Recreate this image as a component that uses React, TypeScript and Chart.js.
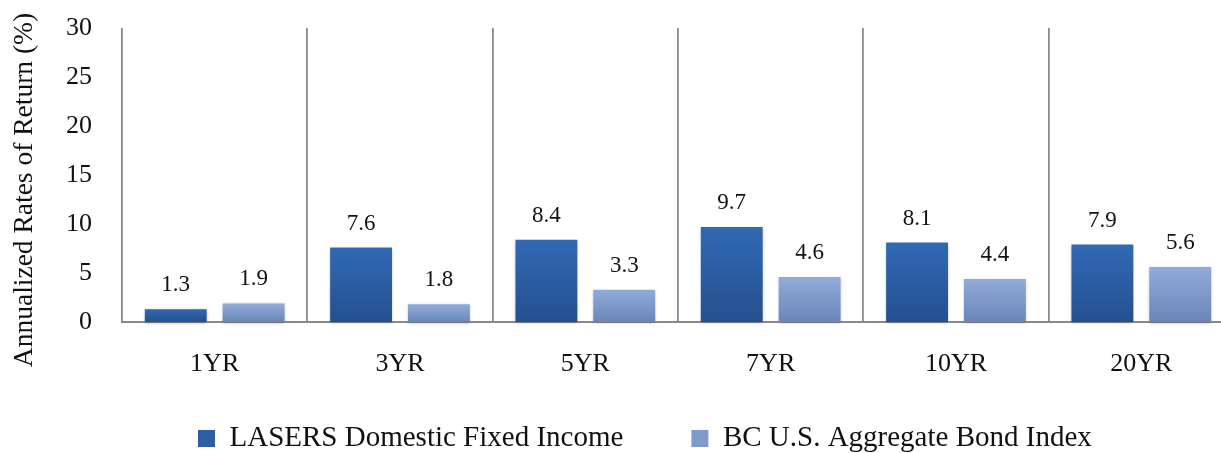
import React, { useEffect, useRef } from "react";
import { Chart, registerables } from "chart.js";

Chart.register(...registerables);

const categories = ["1YR", "3YR", "5YR", "7YR", "10YR", "20YR"];
const lasersValues = [1.3, 7.6, 8.4, 9.7, 8.1, 7.9];
const bcValues = [1.9, 1.8, 3.3, 4.6, 4.4, 5.6];
const seriesNames = ["LASERS Domestic Fixed Income", "BC U.S. Aggregate Bond Index"];
const yTicks = [0, 5, 10, 15, 20, 25, 30];
const yTitle = "Annualized Rates of Return (%)";

const FONT = "'Liberation Serif', 'Times New Roman', serif";
const W = 1240;
const H = 453;
const PLOT_LEFT = 122;
const PLOT_TOP = 28;
const PLOT_BOTTOM = 322;
const PLOT_RIGHT = 1234;
const LEGEND_PAD = 68;
const LEGEND_X = 198;
const LEGEND_ITEM_TOP = 424;
const X_LABEL_BAND = 80;
const Y_TITLE_SHIFT = 15;

const darkStops = ["#3169b4", "#25508f"];
const lightStops = ["#91acd9", "#6a86b9"];
const legendColors = ["#2c5ea4", "#7f9bcc"];

function barGradient(stops: string[]) {
  return (c: any) => {
    const chart = c.chart;
    const y = chart.scales && chart.scales.y;
    if (!chart.chartArea || !y || c.type !== "data" || !c.parsed) return stops[0];
    const top = y.getPixelForValue(c.parsed.y);
    const base = y.getPixelForValue(0);
    if (!isFinite(top) || !isFinite(base) || top === base) return stops[0];
    const g = chart.ctx.createLinearGradient(0, top, 0, base);
    g.addColorStop(0, stops[0]);
    g.addColorStop(1, stops[1]);
    return g;
  };
}

const barDecor = {
  id: "barDecor",
  beforeDatasetsDraw(chart: any) {
    const ctx = chart.ctx;
    ctx.save();
    ctx.shadowColor = "rgba(0,0,0,0.28)";
    ctx.shadowBlur = 3;
    ctx.shadowOffsetY = 1;
  },
  afterDatasetsDraw(chart: any) {
    const ctx = chart.ctx;
    ctx.restore();
    ctx.save();
    ctx.font = `23px ${FONT}`;
    ctx.fillStyle = "#111";
    ctx.textAlign = "center";
    ctx.textBaseline = "alphabetic";
    chart.data.datasets.forEach((ds: any, di: number) => {
      const meta = chart.getDatasetMeta(di);
      meta.data.forEach((el: any, i: number) => {
        const v = ds.data[i];
        ctx.fillText(Number(v).toFixed(1), el.x, el.y - 18);
      });
    });
    ctx.restore();
  },
};

const layoutTweaks = {
  id: "layoutTweaks",
  afterLayout(chart: any) {
    const lg = chart.legend;
    if (lg) {
      lg.left = LEGEND_X - LEGEND_PAD;
      lg.top = LEGEND_ITEM_TOP - LEGEND_PAD;
      lg.bottom = lg.top + lg.height;
    }
    const x = chart.scales.x;
    if (x) {
      x.bottom = x.top + X_LABEL_BAND;
      x.height = X_LABEL_BAND;
    }
    const y = chart.scales.y;
    if (y) {
      // moves only the centred axis title; tick positions are already configured
      y.bottom = y.bottom + 2 * Y_TITLE_SHIFT;
      y.height = y.bottom - y.top;
    }
  },
};

export default function App() {
  const ref = useRef<HTMLCanvasElement | null>(null);

  useEffect(() => {
    if (!ref.current) return;
    const chart = new Chart(ref.current, {
      type: "bar",
      data: {
        labels: categories,
        datasets: [
          {
            label: seriesNames[0],
            data: lasersValues,
            backgroundColor: barGradient(darkStops),
            borderWidth: 0,
            barPercentage: 0.795,
            categoryPercentage: 0.84,
          },
          {
            label: seriesNames[1],
            data: bcValues,
            backgroundColor: barGradient(lightStops),
            borderWidth: 0,
            barPercentage: 0.795,
            categoryPercentage: 0.84,
          },
        ],
      },
      options: {
        responsive: false,
        animation: false,
        devicePixelRatio: 1,
        layout: { padding: { top: PLOT_TOP, right: W - PLOT_RIGHT, left: 0, bottom: 0 } },
        plugins: {
          tooltip: { enabled: false },
          legend: {
            position: "bottom",
            align: "start",
            labels: {
              font: { family: FONT, size: 29 },
              color: "#111",
              boxWidth: 17,
              boxHeight: 17,
              padding: LEGEND_PAD,
              generateLabels: (chart: any) =>
                chart.data.datasets.map((ds: any, i: number) => ({
                  text: ds.label,
                  fillStyle: legendColors[i],
                  strokeStyle: "rgba(0,0,0,0)",
                  lineWidth: 0,
                  hidden: false,
                  datasetIndex: i,
                  fontColor: "#111",
                })),
            },
          },
        },
        scales: {
          x: {
            grid: { display: true, offset: true, drawTicks: false, color: "#8a8a8a", lineWidth: 1.8 },
            border: { display: true, color: "#8a8a8a", width: 2 },
            ticks: { font: { family: FONT, size: 26 }, color: "#111", padding: 27, maxRotation: 0 },
            afterFit: (s: any) => {
              const lh = s.chart.legend ? s.chart.legend.height : 0;
              s.height = H - PLOT_BOTTOM - lh;
            },
          },
          y: {
            min: 0,
            max: 30,
            grid: { display: false, drawTicks: false },
            border: { display: false },
            ticks: { font: { family: FONT, size: 26 }, color: "#111", padding: 30 },
            afterBuildTicks: (s: any) => {
              s.ticks = yTicks.map((v) => ({ value: v }));
            },
            title: {
              display: true,
              text: yTitle,
              font: { family: FONT, size: 27.5 },
              color: "#111",
              padding: { top: 8, bottom: 0 },
            },
            afterFit: (s: any) => {
              s.width = PLOT_LEFT;
              s.paddingTop = 0;
              s.paddingBottom = 0;
            },
          },
        },
      },
      plugins: [barDecor, layoutTweaks],
    });
    return () => chart.destroy();
  }, []);

  return (
    <div
      style={{
        position: "absolute",
        left: 0,
        top: 0,
        width: 1221,
        height: H,
        overflow: "hidden",
        background: "#fff",
      }}
    >
      <canvas ref={ref} width={W} height={H} style={{ display: "block", width: W, height: H }} />
    </div>
  );
}
